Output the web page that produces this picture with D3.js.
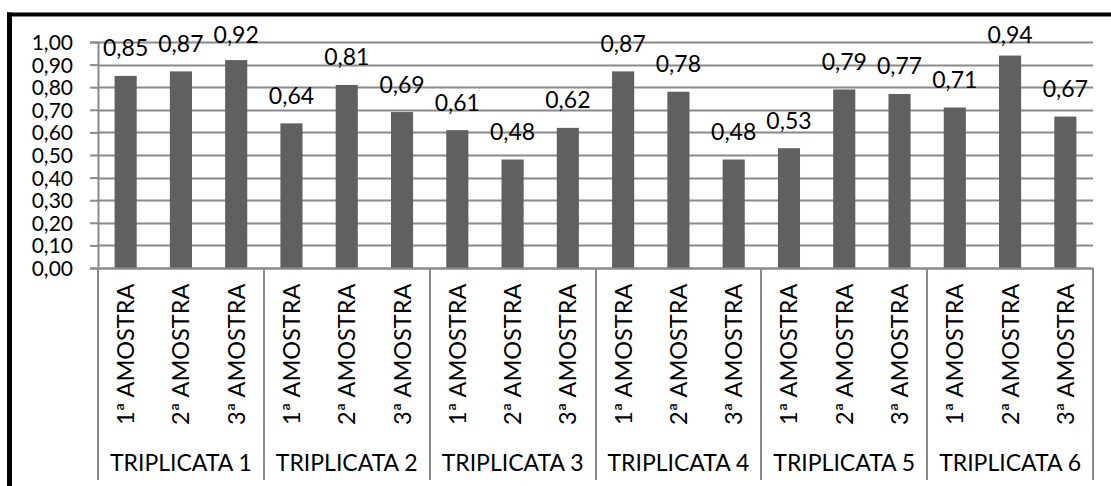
<!DOCTYPE html>
<html>
<head>
<meta charset="utf-8">
<script src="https://cdn.jsdelivr.net/npm/d3@7"></script>
<style>
  html, body { margin: 0; padding: 0; background: #fff; }
  svg { display: block; }
  text { font-family: Lato, "Open Sans", sans-serif; fill: #000; }
</style>
</head>
<body>
<svg id="chart" width="1111" height="486"></svg>
<script>
// Groups (triplicates) and the three samples inside each
const groups = ["TRIPLICATA 1", "TRIPLICATA 2", "TRIPLICATA 3", "TRIPLICATA 4", "TRIPLICATA 5", "TRIPLICATA 6"];
const samples = ["1ª AMOSTRA", "2ª AMOSTRA", "3ª AMOSTRA"];
// One value per sample, in group order
const values = [
  0.85, 0.87, 0.92,
  0.64, 0.81, 0.69,
  0.61, 0.48, 0.62,
  0.87, 0.78, 0.48,
  0.53, 0.79, 0.77,
  0.71, 0.94, 0.67
];
const yTicks = [0, 0.1, 0.2, 0.3, 0.4, 0.5, 0.6, 0.7, 0.8, 0.9, 1.0];

const rows = [];
groups.forEach((g, gi) => samples.forEach((s, si) => {
  rows.push({ key: gi * samples.length + si, group: g, sample: s, value: values[gi * samples.length + si] });
}));

const svg = d3.select("#chart");
const plot = { left: 98, right: 1093, top: 42, bottom: 268 };
const axisColor = "#8a8a8a";
const tickSize = "21px";
const labelSize = "23px";
const fmt = v => d3.format(".2f")(v).replace(".", ",");

const x = d3.scaleBand()
  .domain(rows.map(d => d.key))
  .range([plot.left, plot.right])
  .paddingInner(0.6)
  .paddingOuter(0.3);

const xGroup = d3.scaleBand()
  .domain(groups)
  .range([plot.left, plot.right])
  .padding(0);

const y = d3.scaleLinear().domain([0, 1]).range([plot.bottom, plot.top]);

// Frame
svg.append("line").attr("x1", 7).attr("x2", 1111).attr("y1", 14.5).attr("y2", 14.5)
  .attr("stroke", "#000").attr("stroke-width", 4);
svg.append("line").attr("x1", 9.5).attr("x2", 9.5).attr("y1", 12.5).attr("y2", 486)
  .attr("stroke", "#000").attr("stroke-width", 5);

// Horizontal gridlines
svg.append("g")
  .selectAll("line")
  .data(yTicks)
  .join("line")
  .attr("x1", plot.left).attr("x2", plot.right)
  .attr("y1", d => Math.round(y(d)) + 0.5).attr("y2", d => Math.round(y(d)) + 0.5)
  .attr("stroke", axisColor).attr("stroke-width", 2);

// Value axis
const yAxis = svg.append("g")
  .attr("transform", `translate(${plot.left},0)`)
  .call(d3.axisLeft(y).tickValues(yTicks).tickSize(8).tickPadding(17).tickFormat(fmt));
yAxis.select(".domain").attr("stroke", axisColor).attr("stroke-width", 2);
yAxis.selectAll(".tick line").attr("stroke", axisColor).attr("stroke-width", 2);
yAxis.selectAll(".tick text")
  .style("font-family", "Lato, 'Open Sans', sans-serif")
  .style("font-size", tickSize)
  .attr("fill", "#000")
  .attr("dy", "0.36em");

// Bars
svg.append("g")
  .selectAll("rect")
  .data(rows)
  .join("rect")
  .attr("x", d => x(d.key))
  .attr("width", x.bandwidth())
  .attr("y", d => y(d.value))
  .attr("height", d => y(0) - y(d.value))
  .attr("fill", "#606060");

// Value labels above bars
svg.append("g")
  .selectAll("text")
  .data(rows)
  .join("text")
  .attr("x", d => x(d.key) + x.bandwidth() / 2)
  .attr("y", d => Math.max(y(d.value) - 19.5, 42.5))
  .attr("text-anchor", "middle")
  .style("font-size", labelSize)
  .text(d => fmt(d.value));

// Category axis line
svg.append("line")
  .attr("x1", plot.left).attr("x2", plot.right)
  .attr("y1", plot.bottom + 0.5).attr("y2", plot.bottom + 0.5)
  .attr("stroke", axisColor).attr("stroke-width", 2);

// Group separators
const bounds = groups.map(g => xGroup(g)).concat([plot.right]);
svg.append("g")
  .selectAll("line")
  .data(bounds)
  .join("line")
  .attr("x1", d => Math.round(d)).attr("x2", d => Math.round(d))
  .attr("y1", plot.bottom).attr("y2", 480)
  .attr("stroke", axisColor).attr("stroke-width", 2);

// Sample labels (rotated)
svg.append("g")
  .selectAll("text")
  .data(rows)
  .join("text")
  .attr("transform", d => `translate(${x(d.key) + x.bandwidth() / 2 + 8.5},425) rotate(-90)`)
  .attr("text-anchor", "start")
  .style("font-size", "23.5px")
  .text(d => d.sample);

// Group labels
svg.append("g")
  .selectAll("text")
  .data(groups)
  .join("text")
  .attr("x", d => xGroup(d) + xGroup.bandwidth() / 2)
  .attr("y", 471)
  .attr("text-anchor", "middle")
  .style("font-size", "23px")
  .text(d => d);
</script>
</body>
</html>
